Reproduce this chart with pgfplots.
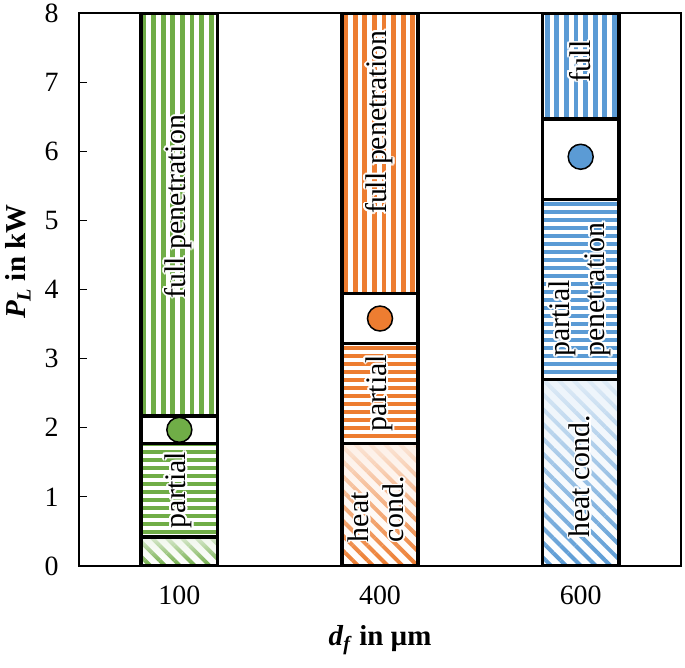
\documentclass[border=0pt]{standalone}
\usepackage{fontspec}
\setmainfont{Liberation Serif}
\usepackage{pgfplots}
\pgfplotsset{compat=1.18}
\usetikzlibrary{patterns.meta,fadings}
\usepackage{contour}
\contourlength{1.8bp}
\definecolor{cgreen}{RGB}{112,173,71}
\definecolor{corange}{RGB}{237,125,49}
\definecolor{cblue}{RGB}{91,155,213}
\newcommand{\lbl}{\fontsize{30}{35}\selectfont}
\newcommand{\cw}[1]{\contour{white}{#1}}
\tikzset{
  vst/.style={draw=none,pattern={Lines[angle=90,distance=9.6bp,line width=4.8bp]},pattern color=#1},
  hst/.style={draw=none,pattern={Lines[angle=0,distance=8bp,line width=4bp]},pattern color=#1},
  dst/.style={draw=none,pattern={Lines[angle=-45,distance=10.5bp,line width=4bp]},pattern color=#1},
  fadeov/.style={draw=none,fill=#1!12,path fading=south,fill opacity=0.92},
  box/.style={draw=black,fill=none,line width=3.6bp,line join=miter},
}
\begin{document}
\begin{tikzpicture}
\begin{axis}[name=ax,
  width=602bp, height=553bp, scale only axis,
  xmin=-0.5, xmax=2.5, ymin=0, ymax=8,
  xtick={0,1,2}, xticklabels={100,400,600},
  ytick={0,1,2,3,4,5,6,7,8},
  tick align=inside, ytick pos=left,
  x tick style={draw=none},
  y tick style={black,line width=1.2bp},
  major tick length=8bp,
  axis line style={black,line width=1.2bp},
  /pgf/number format/assume math mode=true,
  tick label style={font=\fontsize{28}{30}\selectfont},
  yticklabel style={xshift=-17bp},
  xticklabel style={yshift=-16bp},
  xlabel={\textbf{\textit{d}\textsubscript{\textit{f}} in µm}},
  ylabel={\textbf{\textit{P}\textsubscript{\textit{L}} in kW}},
  label style={font=\fontsize{29}{32}\selectfont},
  xlabel style={at={(axis description cs:0.5,-0.134)},anchor=center},
  ylabel style={at={(axis description cs:-0.101,0.55)},anchor=center},
]
% ---------- d_f = 100 (green) ----------
\addplot[dst=cgreen] coordinates {(-0.19,0) (0.19,0) (0.19,0.42) (-0.19,0.42)} --cycle;
\addplot[fadeov=cgreen, fill opacity=0.85] coordinates {(-0.19,0) (0.19,0) (0.19,0.42) (-0.19,0.42)} --cycle;
\addplot[hst=cgreen] coordinates {(-0.19,0.42) (0.19,0.42) (0.19,1.77) (-0.19,1.77)} --cycle;
\addplot[vst=cgreen] coordinates {(-0.19,2.17) (0.19,2.17) (0.19,8) (-0.19,8)} --cycle;
\addplot[box] coordinates {(-0.19,0) (0.19,0) (0.19,0.42) (-0.19,0.42)} --cycle;
\addplot[box] coordinates {(-0.19,0.42) (0.19,0.42) (0.19,1.77) (-0.19,1.77)} --cycle;
\addplot[box] coordinates {(-0.19,1.77) (0.19,1.77) (0.19,2.17) (-0.19,2.17)} --cycle;
\addplot[box] coordinates {(-0.19,2.17) (0.19,2.17) (0.19,8) (-0.19,8)} --cycle;
% ---------- d_f = 400 (orange) ----------
\addplot[dst=corange] coordinates {(0.81,0) (1.19,0) (1.19,1.77) (0.81,1.77)} --cycle;
\addplot[fadeov=corange] coordinates {(0.81,0) (1.19,0) (1.19,1.77) (0.81,1.77)} --cycle;
\addplot[hst=corange] coordinates {(0.81,1.77) (1.19,1.77) (1.19,3.22) (0.81,3.22)} --cycle;
\addplot[vst=corange] coordinates {(0.81,3.94) (1.19,3.94) (1.19,8) (0.81,8)} --cycle;
\addplot[box] coordinates {(0.81,0) (1.19,0) (1.19,1.77) (0.81,1.77)} --cycle;
\addplot[box] coordinates {(0.81,1.77) (1.19,1.77) (1.19,3.22) (0.81,3.22)} --cycle;
\addplot[box] coordinates {(0.81,3.22) (1.19,3.22) (1.19,3.94) (0.81,3.94)} --cycle;
\addplot[box] coordinates {(0.81,3.94) (1.19,3.94) (1.19,8) (0.81,8)} --cycle;
% ---------- d_f = 600 (blue) ----------
\addplot[dst=cblue] coordinates {(1.81,0) (2.19,0) (2.19,2.70) (1.81,2.70)} --cycle;
\addplot[fadeov=cblue] coordinates {(1.81,0) (2.19,0) (2.19,2.70) (1.81,2.70)} --cycle;
\addplot[hst=cblue] coordinates {(1.81,2.70) (2.19,2.70) (2.19,5.30) (1.81,5.30)} --cycle;
\addplot[vst=cblue] coordinates {(1.81,6.47) (2.19,6.47) (2.19,8) (1.81,8)} --cycle;
\addplot[box] coordinates {(1.81,0) (2.19,0) (2.19,2.70) (1.81,2.70)} --cycle;
\addplot[box] coordinates {(1.81,2.70) (2.19,2.70) (2.19,5.30) (1.81,5.30)} --cycle;
\addplot[box] coordinates {(1.81,5.30) (2.19,5.30) (2.19,6.47) (1.81,6.47)} --cycle;
\addplot[box] coordinates {(1.81,6.47) (2.19,6.47) (2.19,8) (1.81,8)} --cycle;
% ---------- transition points ----------
\addplot[only marks, mark=*, mark size=12.5bp, mark options={fill=cgreen, draw=black, line width=1.5bp}] coordinates {(0,1.97)};
\addplot[only marks, mark=*, mark size=12.5bp, mark options={fill=corange, draw=black, line width=1.5bp}] coordinates {(1,3.58)};
\addplot[only marks, mark=*, mark size=12.5bp, mark options={fill=cblue, draw=black, line width=1.5bp}] coordinates {(2,5.92)};
% ---------- labels ----------
\node[rotate=90, font=\lbl] at (axis cs:0,5.2) {\cw{full penetration}};
\node[rotate=90, font=\lbl] at (axis cs:0,1.1) {\cw{partial}};
\node[rotate=90, font=\lbl] at (axis cs:1,6.42) {\cw{full penetration}};
\node[rotate=90, font=\lbl] at (axis cs:1,2.5) {\cw{partial}};
\node[rotate=90, font=\lbl, align=left] at (axis cs:0.985,0.82) {\cw{heat}\\\cw{cond.}};
\node[rotate=90, font=\lbl] at (axis cs:2,7.3) {\cw{full}};
\node[rotate=90, font=\lbl, align=left] at (axis cs:2,4.0) {\cw{partial}\\\cw{penetration}};
\node[rotate=90, font=\lbl] at (axis cs:2,1.3) {\cw{heat cond.}};
\end{axis}
\pgfresetboundingbox
\path[use as bounding box] ([xshift=-79bp,yshift=-102bp]ax.south west) rectangle ([xshift=4bp,yshift=13bp]ax.north east);
\end{tikzpicture}
\end{document}
